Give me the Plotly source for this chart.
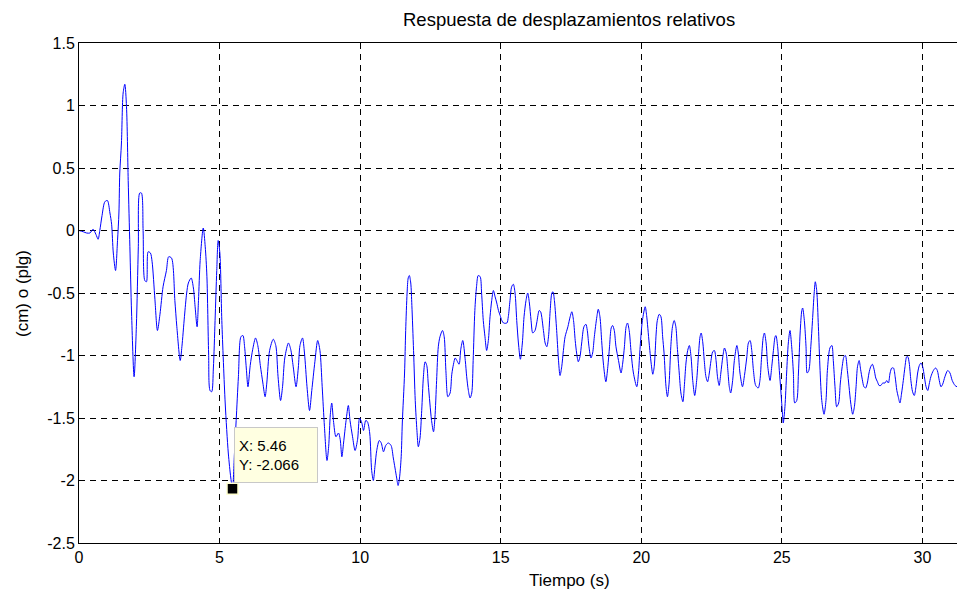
import plotly.graph_objects as go

# Time (s) and relative displacement (cm)
tiempo = [
    0.00, 0.15, 0.27, 0.39, 0.50, 0.60, 0.68, 0.74, 0.82, 0.92, 1.01, 1.10, 1.16, 1.22, 1.30, 1.37,
    1.42, 1.45, 1.51, 1.57, 1.63, 1.69, 1.75, 1.81, 1.87, 1.96, 2.04, 2.11, 2.16, 2.22, 2.28, 2.34,
    2.40, 2.46, 2.54, 2.60, 2.70, 2.79, 2.88, 2.99, 3.11, 3.19, 3.29, 3.41, 3.48, 3.60, 3.66, 3.75,
    3.83, 3.89, 3.99, 4.07, 4.13, 4.20, 4.25, 4.31, 4.42, 4.49, 4.55, 4.61, 4.66, 4.72, 4.78, 4.84,
    4.90, 4.95, 5.01, 5.08, 5.20, 5.31, 5.40, 5.46, 5.53, 5.59, 5.67, 5.76, 5.83, 5.89, 5.95, 6.01,
    6.09, 6.18, 6.28, 6.36, 6.45, 6.54, 6.62, 6.68, 6.78, 6.91, 7.00, 7.08, 7.17, 7.24, 7.32, 7.45,
    7.53, 7.62, 7.72, 7.80, 7.86, 7.95, 8.02, 8.11, 8.20, 8.28, 8.39, 8.49, 8.57, 8.65, 8.73, 8.82,
    8.88, 8.94, 8.99, 9.05, 9.14, 9.23, 9.29, 9.35, 9.41, 9.50, 9.58, 9.64, 9.73, 9.82, 9.91, 9.98,
    10.06, 10.12, 10.20, 10.26, 10.34, 10.41, 10.47, 10.53, 10.59, 10.68, 10.75, 10.83, 10.91, 11.00,
    11.10, 11.18, 11.24, 11.30, 11.35, 11.40, 11.46, 11.50, 11.58, 11.62, 11.67, 11.71, 11.75, 11.80,
    11.84, 11.90, 11.96, 12.02, 12.07, 12.13, 12.19, 12.25, 12.31, 12.37, 12.42, 12.48, 12.54, 12.61,
    12.66, 12.72, 12.78, 12.84, 12.93, 12.99, 13.05, 13.12, 13.20, 13.26, 13.32, 13.38, 13.44, 13.52,
    13.58, 13.65, 13.74, 13.79, 13.85, 13.91, 13.97, 14.02, 14.08, 14.14, 14.20, 14.27, 14.32, 14.38,
    14.44, 14.50, 14.56, 14.62, 14.68, 14.74, 14.80, 14.86, 14.92, 14.98, 15.04, 15.10, 15.22, 15.27,
    15.33, 15.39, 15.45, 15.51, 15.57, 15.63, 15.70, 15.77, 15.83, 15.90, 15.96, 16.02, 16.08, 16.14,
    16.22, 16.28, 16.37, 16.42, 16.52, 16.58, 16.64, 16.70, 16.76, 16.82, 16.86, 16.91, 16.99, 17.05,
    17.11, 17.17, 17.23, 17.29, 17.39, 17.47, 17.53, 17.59, 17.65, 17.70, 17.76, 17.82, 17.88, 17.96,
    18.03, 18.08, 18.14, 18.21, 18.27, 18.33, 18.42, 18.47, 18.53, 18.59, 18.65, 18.74, 18.81, 18.87,
    18.93, 18.98, 19.04, 19.10, 19.19, 19.28, 19.34, 19.40, 19.46, 19.51, 19.57, 19.64, 19.72, 19.84,
    19.90, 19.96, 20.04, 20.14, 20.19, 20.28, 20.35, 20.41, 20.46, 20.53, 20.57, 20.64, 20.70, 20.76,
    20.81, 20.88, 20.93, 20.99, 21.05, 21.11, 21.17, 21.23, 21.28, 21.35, 21.41, 21.48, 21.53, 21.59,
    21.65, 21.71, 21.77, 21.83, 21.90, 21.97, 22.03, 22.09, 22.13, 22.19, 22.24, 22.30, 22.36, 22.42,
    22.48, 22.54, 22.60, 22.66, 22.71, 22.77, 22.83, 22.90, 22.96, 23.02, 23.08, 23.13, 23.18, 23.25,
    23.31, 23.40, 23.45, 23.51, 23.60, 23.67, 23.75, 23.81, 23.87, 23.93, 23.99, 24.07, 24.16, 24.22,
    24.28, 24.34, 24.38, 24.44, 24.50, 24.58, 24.64, 24.70, 24.76, 24.79, 24.85, 24.91, 24.97, 25.02,
    25.05, 25.11, 25.17, 25.23, 25.29, 25.35, 25.41, 25.46, 25.53, 25.59, 25.65, 25.71, 25.74, 25.80,
    25.86, 25.90, 25.96, 26.03, 26.09, 26.15, 26.19, 26.24, 26.30, 26.36, 26.42, 26.50, 26.57, 26.62,
    26.71, 26.78, 26.83, 26.89, 26.95, 27.02, 27.08, 27.14, 27.21, 27.26, 27.33, 27.39, 27.45, 27.52,
    27.58, 27.64, 27.69, 27.75, 27.80, 27.86, 27.92, 27.98, 28.04, 28.10, 28.16, 28.22, 28.28, 28.34,
    28.40, 28.46, 28.52, 28.59, 28.67, 28.73, 28.79, 28.85, 28.91, 28.97, 29.03, 29.09, 29.14, 29.20,
    29.26, 29.32, 29.38, 29.44, 29.48, 29.53, 29.59, 29.65, 29.71, 29.77, 29.83, 29.89, 29.95, 30.01,
    30.07, 30.13, 30.19, 30.24, 30.30, 30.39, 30.47, 30.53, 30.60, 30.66, 30.72, 30.80, 30.90, 30.98,
    31.06, 31.16, 31.23,
]

desplazamiento = [
    0.00, -0.01, -0.02, -0.02, 0.01, -0.03, -0.07, 0.00, 0.12, 0.23, 0.24, 0.14, 0.05, -0.18, -0.32, -0.08,
    0.14, 0.46, 0.70, 1.10, 1.17, 0.99, 0.40, -0.13, -0.66, -1.17, -0.77, -0.13, 0.30, 0.30, 0.00, -0.40,
    -0.41, -0.17, -0.18, -0.25, -0.55, -0.80, -0.67, -0.45, -0.32, -0.21, -0.22, -0.56, -0.77, -1.04, -0.93, -0.69,
    -0.50, -0.42, -0.38, -0.46, -0.61, -0.77, -0.56, -0.24, 0.02, -0.13, -0.37, -0.98, -1.28, -1.29, -1.10, -0.72,
    -0.32, -0.08, -0.18, -0.72, -1.38, -1.78, -1.98, -2.066, -1.78, -1.52, -1.17, -0.85, -0.84, -0.93, -1.10, -1.25,
    -1.08, -0.95, -0.86, -0.92, -1.08, -1.22, -1.33, -1.22, -0.96, -0.87, -0.92, -1.17, -1.36, -1.25, -1.02, -0.90,
    -0.95, -1.09, -1.25, -1.10, -0.92, -0.86, -0.98, -1.25, -1.44, -1.28, -1.05, -0.88, -0.96, -1.25, -1.57, -1.84,
    -1.73, -1.47, -1.38, -1.52, -1.65, -1.62, -1.67, -1.81, -1.70, -1.52, -1.40, -1.52, -1.65, -1.76, -1.67, -1.50,
    -1.54, -1.60, -1.52, -1.53, -1.62, -1.92, -2.00, -1.88, -1.76, -1.68, -1.70, -1.77, -1.72, -1.70,
    -1.72, -1.82, -1.90, -1.98, -2.04, -1.98, -1.81, -1.54, -1.14, -0.80, -0.50, -0.38, -0.36, -0.42,
    -0.60, -0.96, -1.36, -1.60, -1.73, -1.66, -1.44, -1.17, -1.05, -1.08, -1.22, -1.38, -1.52, -1.61,
    -1.50, -1.20, -0.93, -0.85, -0.80, -0.85, -1.12, -1.33, -1.30, -1.15, -1.07, -1.02, -1.04, -1.07,
    -0.95, -0.88, -1.04, -1.17, -1.28, -1.34, -1.30, -1.04, -0.64, -0.45, -0.36, -0.37, -0.50, -0.72,
    -0.85, -0.96, -0.88, -0.69, -0.56, -0.48, -0.53, -0.58, -0.64, -0.68, -0.72, -0.74, -0.74, -0.69,
    -0.56, -0.45, -0.43, -0.50, -0.72, -0.90, -1.03, -0.90, -0.69, -0.56, -0.50, -0.58, -0.72, -0.82,
    -0.80, -0.74, -0.64, -0.65, -0.80, -0.90, -0.93, -0.85, -0.64, -0.50, -0.49, -0.56, -0.80, -1.02,
    -1.16, -1.09, -0.96, -0.85, -0.77, -0.69, -0.65, -0.72, -0.88, -0.98, -1.05, -1.01, -0.90, -0.77,
    -0.75, -0.80, -0.93, -1.02, -0.98, -0.85, -0.69, -0.63, -0.69, -0.88, -1.06, -1.21, -1.09, -0.93,
    -0.78, -0.76, -0.80, -0.93, -1.04, -1.14, -1.06, -0.93, -0.77, -0.74, -0.80, -0.98, -1.14, -1.25,
    -1.14, -0.93, -0.72, -0.61, -0.68, -0.90, -1.06, -1.15, -1.09, -0.82, -0.72, -0.67, -0.69, -0.85,
    -0.98, -1.25, -1.33, -1.22, -0.93, -0.77, -0.72, -0.77, -0.93, -1.14, -1.30, -1.37, -1.25, -1.06,
    -0.96, -0.92, -1.01, -1.20, -1.32, -1.20, -1.01, -0.85, -0.82, -0.90, -1.04, -1.17, -1.21, -1.14,
    -1.04, -0.97, -0.96, -1.04, -1.17, -1.24, -1.14, -1.01, -0.94, -0.98, -1.12, -1.25, -1.30, -1.20,
    -1.04, -0.92, -0.98, -1.14, -1.25, -1.16, -1.02, -0.90, -0.88, -0.96, -1.12, -1.24, -1.26, -1.20,
    -1.01, -0.85, -0.82, -0.90, -1.09, -1.20, -1.09, -0.96, -0.85, -0.84, -0.93, -1.12, -1.30, -1.46,
    -1.54, -1.41, -1.14, -0.90, -0.80, -0.93, -1.14, -1.38, -1.36, -1.14, -0.82, -0.64, -0.62, -0.72,
    -0.93, -1.14, -1.12, -0.93, -0.72, -0.50, -0.41, -0.48, -0.77, -1.12, -1.36, -1.47, -1.36, -1.12,
    -0.94, -0.92, -1.04, -1.25, -1.41, -1.38, -1.22, -1.10, -1.01, -1.00, -1.12, -1.25, -1.38, -1.47,
    -1.41, -1.25, -1.09, -1.04, -1.11, -1.19, -1.25, -1.26, -1.22, -1.14, -1.09, -1.07, -1.11, -1.18,
    -1.21, -1.24, -1.24, -1.22, -1.22, -1.20, -1.22, -1.14, -1.10, -1.10, -1.17, -1.28, -1.33, -1.38,
    -1.30, -1.20, -1.09, -1.01, -1.01, -1.06, -1.20, -1.29, -1.32, -1.25, -1.14, -1.08, -1.06, -1.09,
    -1.17, -1.25, -1.28, -1.23, -1.17, -1.12, -1.10, -1.12, -1.20, -1.25, -1.23, -1.17, -1.12, -1.14,
    -1.20, -1.24, -1.25,
]

y_ticks = [-2.5, -2, -1.5, -1, -0.5, 0, 0.5, 1, 1.5]
y_tick_labels = ["-2.5", "-2", "-1.5", "-1", "-0.5", "0", "0.5", "1", "1.5"]
x_ticks = [0, 5, 10, 15, 20, 25, 30]
x_tick_labels = ["0", "5", "10", "15", "20", "25", "30"]

dato_x = 5.46
dato_y = -2.066

FONT = "Liberation Sans, Arial, sans-serif"

fig = go.Figure()
fig.add_trace(go.Scatter(
    x=tiempo, y=desplazamiento, mode="lines",
    line=dict(color="#0000ff", width=1, shape="spline", smoothing=0.8),
    showlegend=False, hoverinfo="skip",
))
fig.add_trace(go.Scatter(
    x=[dato_x], y=[dato_y], mode="markers",
    marker=dict(symbol="square", size=11, color="black", line=dict(color="#ffffd0", width=1.5)),
    showlegend=False, hoverinfo="skip",
))

W, H = 957, 594
L, R, T, B = 79, 0, 43, 51
plot_w = W - L - R
plot_h = H - T - B
cx = (569 - L) / plot_w

fig.add_annotation(
    x=5.52, y=-1.575, xref="x", yref="y", xanchor="left", yanchor="top",
    text="X: 5.46<br>Y: -2.066", showarrow=False, align="left",
    font=dict(family=FONT, size=15, color="black"),
    bgcolor="#ffffe1", bordercolor="#c8c8c8", borderwidth=1, borderpad=4,
    width=74, height=46,
)
fig.add_annotation(
    x=cx, y=1 + (T - 20) / plot_h, xref="paper", yref="paper", xanchor="center", yanchor="middle",
    text="Respuesta de desplazamientos relativos", showarrow=False,
    font=dict(family=FONT, size=18.5, color="black"),
)
fig.add_annotation(
    x=cx, y=-(580 - T - plot_h) / plot_h, xref="paper", yref="paper", xanchor="center", yanchor="middle",
    text="Tiempo (s)", showarrow=False,
    font=dict(family=FONT, size=17, color="black"),
)
fig.add_annotation(
    x=-(L - 22) / plot_w, y=0.5, xref="paper", yref="paper", xanchor="center", yanchor="middle",
    text="(cm) o (plg)", showarrow=False, textangle=-90,
    font=dict(family=FONT, size=17, color="black"),
)

fig.update_layout(
    width=W, height=H,
    margin=dict(l=L, r=R, t=T, b=B, autoexpand=False),
    paper_bgcolor="white", plot_bgcolor="white",
    font=dict(family=FONT, size=16, color="black"),
    xaxis=dict(
        range=[0, 31.23], tickvals=x_ticks, ticktext=x_tick_labels, automargin=False,
        ticks="inside", ticklen=5, tickcolor="black", showline=True, linecolor="black",
        linewidth=1, mirror="ticks", showgrid=True, gridcolor="black", gridwidth=1,
        griddash="6px,5px", zeroline=False, tickfont=dict(family=FONT, size=16),
    ),
    yaxis=dict(
        range=[-2.5, 1.5], tickvals=y_ticks, ticktext=y_tick_labels, automargin=False,
        ticks="inside", ticklen=5, tickcolor="black", showline=True, linecolor="black",
        linewidth=1, mirror=False, showgrid=True, gridcolor="black", gridwidth=1,
        griddash="6px,5px", zeroline=False, tickfont=dict(family=FONT, size=16),
    ),
)

fig.write_html(
    "out.html",
    config={"displayModeBar": False, "staticPlot": True},
    post_script="document.body.style.margin='0';document.body.style.overflow='hidden';",
)
